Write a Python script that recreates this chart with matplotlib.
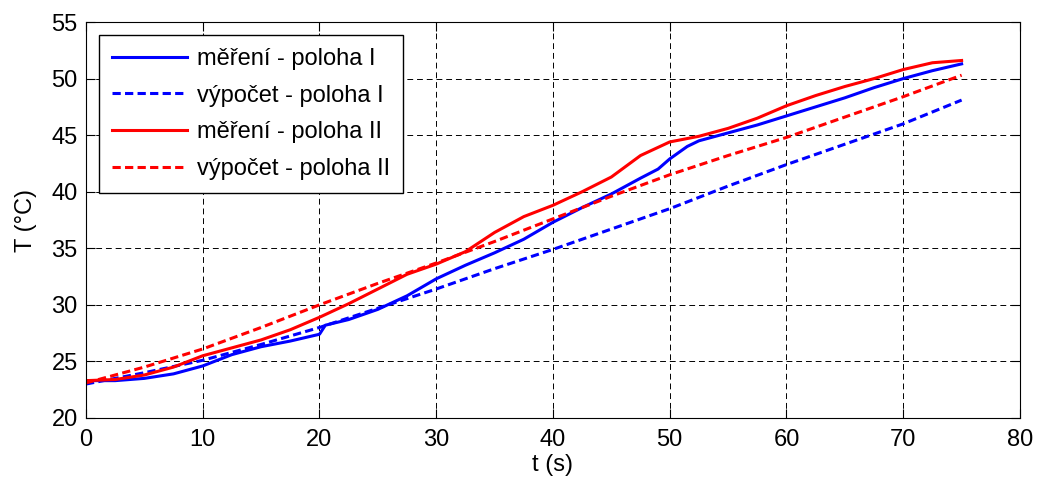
import matplotlib.pyplot as plt

plt.rcParams['font.family'] = ['Liberation Sans', 'DejaVu Sans']

# měření
t_mer_I = [0, 2.5, 5, 7.5, 10, 12.5, 15, 17.5, 20, 20.5, 22.5, 25, 27.5, 30, 32.5, 35, 37.5,
           40, 42.5, 45, 47.5, 49, 50, 51.5, 52.5, 55, 57.5, 60, 62.5, 65, 67.5, 70, 72.5, 75]
T_mer_I = [23.3, 23.3, 23.5, 23.9, 24.6, 25.6, 26.3, 26.8, 27.4, 28.2, 28.7, 29.6, 30.8, 32.3, 33.5, 34.6, 35.8,
           37.3, 38.6, 39.8, 41.2, 42.0, 42.9, 44.0, 44.5, 45.2, 45.9, 46.7, 47.5, 48.3, 49.2, 50.0, 50.7, 51.3]

t_mer_II = [0, 2.5, 5, 7.5, 10, 12.5, 15, 17.5, 20, 22.5, 25, 27.5, 30, 32.5, 35, 37.5,
            40, 42.5, 45, 47.5, 50, 52.5, 55, 57.5, 60, 62.5, 65, 67.5, 70, 72.5, 75]
T_mer_II = [23.3, 23.4, 23.8, 24.5, 25.5, 26.2, 26.9, 27.8, 28.9, 30.1, 31.4, 32.7, 33.6, 34.7, 36.4, 37.8,
            38.8, 40.0, 41.3, 43.2, 44.4, 44.9, 45.6, 46.5, 47.6, 48.5, 49.3, 50.0, 50.8, 51.4, 51.6]

# výpočet
t_vyp = [0, 5, 10, 15, 20, 25, 30, 35, 40, 45, 50, 55, 60, 65, 70, 75]
T_vyp_I = [23.0, 24.0, 25.1, 26.5, 28.0, 29.7, 31.4, 33.2, 34.9, 36.7, 38.5, 40.5, 42.4, 44.2, 46.0, 48.1]
T_vyp_II = [23.1, 24.5, 26.1, 28.0, 30.0, 31.9, 33.7, 35.6, 37.6, 39.6, 41.5, 43.2, 44.8, 46.6, 48.4, 50.3]

fig = plt.figure(figsize=(10.37, 4.84), dpi=100)
ax = fig.add_axes([0.0829, 0.1364, 0.9007, 0.8181])

dash = (0, (2.7, 1.4))
ax.plot(t_mer_I, T_mer_I, color='blue', lw=2.2, label='měření - poloha I')
ax.plot(t_vyp, T_vyp_I, color='blue', lw=2.2, ls=dash, label='výpočet - poloha I')
ax.plot(t_mer_II, T_mer_II, color='red', lw=2.2, label='měření - poloha II')
ax.plot(t_vyp, T_vyp_II, color='red', lw=2.2, ls=dash, label='výpočet - poloha II')

ax.set_xlim(0, 80)
ax.set_ylim(20, 55)
ax.set_xticks(range(0, 81, 10))
ax.set_yticks(range(20, 56, 5))
ax.grid(True, color='black', ls=(0, (6, 4)), lw=0.7)
ax.tick_params(direction='in', top=True, right=True, labelsize=17, length=6.5)
ax.tick_params(axis='x', pad=8)
ax.tick_params(axis='y', pad=6)
ax.set_xlabel('t (s)', fontsize=17, labelpad=2)
ax.set_ylabel('T (°C)', fontsize=17, labelpad=10)

leg = ax.legend(loc='upper left', fontsize=17, fancybox=False, edgecolor='black',
                framealpha=1, handlelength=3.2, handletextpad=0.4,
                borderaxespad=0.55, labelspacing=0.62, borderpad=0.55)
leg.get_frame().set_linewidth(1.0)

fig.savefig('out.png', dpi=100)
